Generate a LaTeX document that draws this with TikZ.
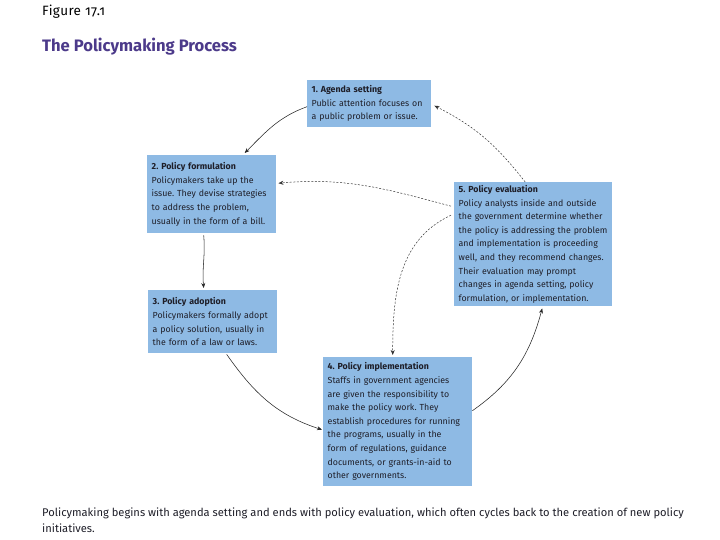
\documentclass[tikz,border=0pt]{standalone}
\usepackage{fontspec}
\setmainfont{Fira Sans}
\usetikzlibrary{arrows.meta,calc}
\definecolor{boxblue}{RGB}{142,186,228}
\definecolor{titlepurple}{RGB}{76,58,138}
\definecolor{boxtext}{RGB}{30,30,40}
\tikzset{
  stagebox/.style={fill=boxblue, draw=none, anchor=north west, align=left,
    inner xsep=4.5pt, inner ysep=3pt, text=boxtext,
    font=\fontsize{8.8}{13.6}\selectfont},
  flow/.style={-{Stealth[length=5pt,width=4pt]}, line width=0.55pt, draw=black!85},
  feedback/.style={-{Stealth[length=5pt,width=4pt]}, line width=0.5pt, draw=black!80,
    dash pattern=on 2pt off 1.6pt}
}
\frenchspacing
\begin{document}
\begin{tikzpicture}[x=1pt,y=1pt]
\useasboundingbox (0,0) rectangle (720,540);
% headings
\node[anchor=base west, inner sep=0, font=\fontsize{13.5}{15}\selectfont\addfontfeatures{Numbers=OldStyle,LetterSpace=3}]
  (fig) at (42,524) {Figure 17.1};
\node[anchor=base west, inner sep=0, text=titlepurple, font=\fontsize{16.6}{19}\selectfont\bfseries]
  (title) at (42,488) {The Policymaking Process};
% boxes
\node[stagebox, text width=115pt, minimum width=124pt, minimum height=47pt] (b1) at (307,460)
  {\textbf{1. Agenda setting}\\Public attention focuses on\\a public problem or issue.};
\node[stagebox, text width=120pt, minimum width=129pt, minimum height=78pt] (b2) at (147,385)
  {\textbf{2. Policy formulation}\\Policymakers take up the\\issue. They devise strategies\\to address the problem,\\usually in the form of a bill.};
\node[stagebox, text width=120pt, minimum width=129pt, minimum height=63pt] (b3) at (148,250)
  {\textbf{3. Policy adoption}\\Policymakers formally adopt\\a policy solution, usually in\\the form of a law or laws.};
\node[stagebox, text width=140pt, minimum width=149pt, minimum height=129pt] (b4) at (323,183)
  {\textbf{4. Policy implementation}\\Staffs in government agencies\\are given the responsibility to\\make the policy work. They\\establish procedures for running\\the programs, usually in the\\form of regulations, guidance\\documents, or grants-in-aid to\\other governments.};
\node[stagebox, text width=149pt, minimum width=158pt, minimum height=124pt] (b5) at (454,358)
  {\textbf{5. Policy evaluation}\\Policy analysts inside and outside\\the government determine whether\\the policy is addressing the problem\\and implementation is proceeding\\well, and they recommend changes.\\Their evaluation may prompt\\changes in agenda setting, policy\\formulation, or implementation.};
% caption
\node[anchor=north west, inner sep=0, align=left, text=boxtext, font=\fontsize{11.15}{15.5}\selectfont]
  (cap) at (42,32) {Policymaking begins with agenda setting and ends with policy evaluation, which often cycles back to the creation of new policy\\initiatives.};
% main cycle
\draw[flow] ([yshift=-3pt]b1.west) to[out=200,in=45] ([xshift=33pt,yshift=2pt]b2.north);
\draw[flow] ([xshift=-8pt,yshift=-2pt]b2.south) to[out=-85,in=95] ([xshift=-9pt,yshift=2pt]b3.north);
\draw[flow] ([xshift=14pt,yshift=-1pt]b3.south) to[out=-55,in=162] ([xshift=-1pt,yshift=-8pt]b4.west);
\draw[flow] ([yshift=11pt]b4.east) to[out=35,in=-105] ([xshift=9pt,yshift=-2pt]b5.south);
% feedback
\draw[feedback] ([xshift=-8pt]b5.north) to[out=128,in=-27] ([xshift=3pt,yshift=-2pt]b1.east);
\draw[feedback] ([xshift=-3pt,yshift=38pt]b5.west) to[out=165,in=5] ([xshift=2pt,yshift=11pt]b2.east);
\draw[feedback] ([xshift=-3pt,yshift=29pt]b5.west) to[out=205,in=90] ([xshift=-5pt,yshift=2pt]b4.north);
\end{tikzpicture}
\end{document}
